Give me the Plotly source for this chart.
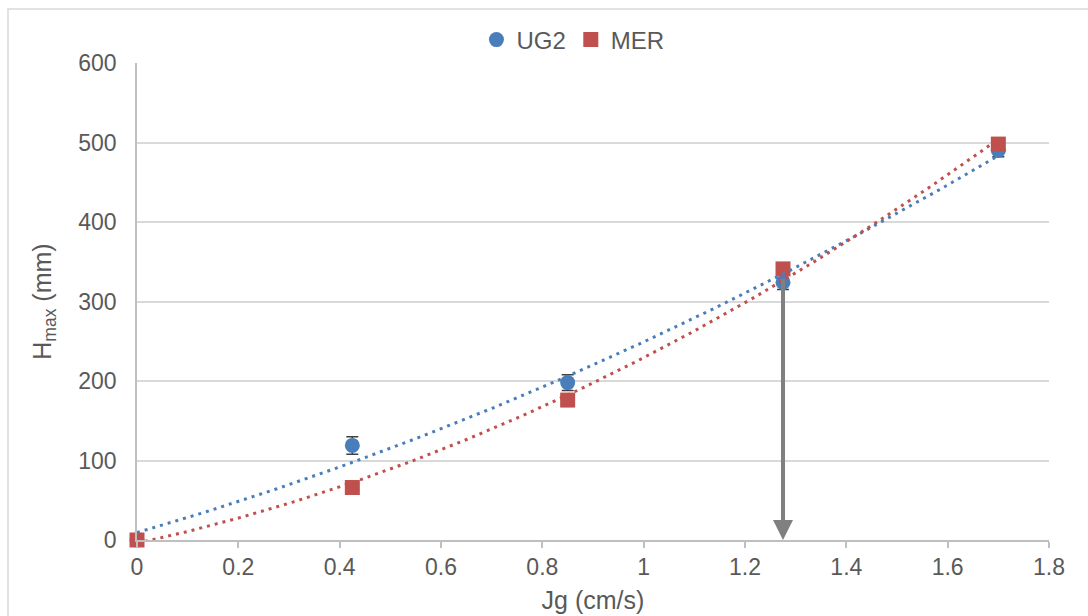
import numpy as np
import plotly.graph_objects as go

# Superficial gas velocity Jg (cm/s) and maximum froth height (mm)
jg = [0.0, 0.425, 0.85, 1.275, 1.7]
ug2_h = [0.0, 119, 198, 324, 490]
ug2_err = [0.0, 11, 10, 9, 8]
mer_h = [0.0, 66, 176, 341, 498]

series_names = ["UG2", "MER"]
x_ticks = [0, 0.2, 0.4, 0.6, 0.8, 1.0, 1.2, 1.4, 1.6, 1.8]
y_ticks = [0, 100, 200, 300, 400, 500, 600]

# marked velocity and starting height of the drop-down arrow
arrow_jg = 1.275
arrow_top = 330

BLUE = "#4A7EBB"
RED = "#C0504D"
TEXT = "#595959"
GRID = "#D9D9D9"
FONT = "Liberation Sans, Arial, sans-serif"

fig = go.Figure()

fig.add_trace(go.Scatter(
    x=jg, y=ug2_h, mode="markers", name=series_names[0],
    marker=dict(symbol="circle", size=15, color=BLUE),
    error_y=dict(type="data", array=ug2_err, visible=True,
                 color="#404040", thickness=1.5, width=6),
    cliponaxis=False,
))
fig.add_trace(go.Scatter(
    x=jg, y=mer_h, mode="markers", name=series_names[1],
    marker=dict(symbol="square", size=15, color=RED),
    cliponaxis=False,
))

# second-order polynomial trendlines
xs = np.linspace(min(jg), max(jg), 200)
for h, col in [(ug2_h, BLUE), (mer_h, RED)]:
    coef = np.polyfit(jg, h, 2)
    fig.add_trace(go.Scatter(
        x=xs, y=np.polyval(coef, xs), mode="lines", showlegend=False,
        hoverinfo="skip",
        line=dict(color=col, width=3, dash="3px,5px"),
    ))

fig.add_annotation(
    x=arrow_jg, y=0, ax=arrow_jg, ay=arrow_top,
    xref="x", yref="y", axref="x", ayref="y",
    text="", showarrow=True, arrowhead=2, arrowsize=1.0,
    arrowwidth=4, arrowcolor="#808080",
)

# light outer frame around the chart
fig.add_shape(
    type="rect", xref="paper", yref="paper",
    x0=(8 - 137) / 912, x1=(1100 - 137) / 912,
    y0=-(640 - 540) / 477, y1=1 + (63 - 9) / 477,
    line=dict(color=GRID, width=1.5), fillcolor="rgba(0,0,0,0)", layer="below",
)

fig.update_layout(
    width=1088, height=616,
    margin=dict(l=137, r=39, t=63, b=76),
    paper_bgcolor="white", plot_bgcolor="white",
    font=dict(family=FONT, size=23, color=TEXT),
    showlegend=True,
    legend=dict(orientation="h", x=0.478, xanchor="center",
                y=1 + (63 - 40) / 477, yanchor="middle",
                font=dict(size=24, color=TEXT), itemwidth=30,
                tracegroupgap=0, bgcolor="rgba(0,0,0,0)"),
    xaxis=dict(
        range=[0, 1.8], tickvals=x_ticks,
        ticktext=[f"{v:g}" for v in x_ticks],
        showgrid=False, zeroline=False,
        showline=True, linecolor="#BFBFBF", linewidth=1.5,
        ticks="outside", ticklen=6, tickcolor="#BFBFBF", tickwidth=1.5,
        tickfont=dict(size=23, color=TEXT),
        title=dict(text="Jg (cm/s)", font=dict(size=25, color=TEXT), standoff=12),
        automargin=False,
        fixedrange=True,
    ),
    yaxis=dict(
        range=[0, 600], tickvals=y_ticks,
        showgrid=True, gridcolor=GRID, gridwidth=1.5,
        zeroline=False,
        showline=True, linecolor="#BFBFBF", linewidth=1.5,
        ticks="", ticklabelstandoff=14,
        tickfont=dict(size=23, color=TEXT),
        title=dict(text="H<sub>max</sub> (mm)", font=dict(size=25, color=TEXT),
                   standoff=20),
        automargin=False,
        fixedrange=True,
    ),
)

fig.write_html("out.html")
